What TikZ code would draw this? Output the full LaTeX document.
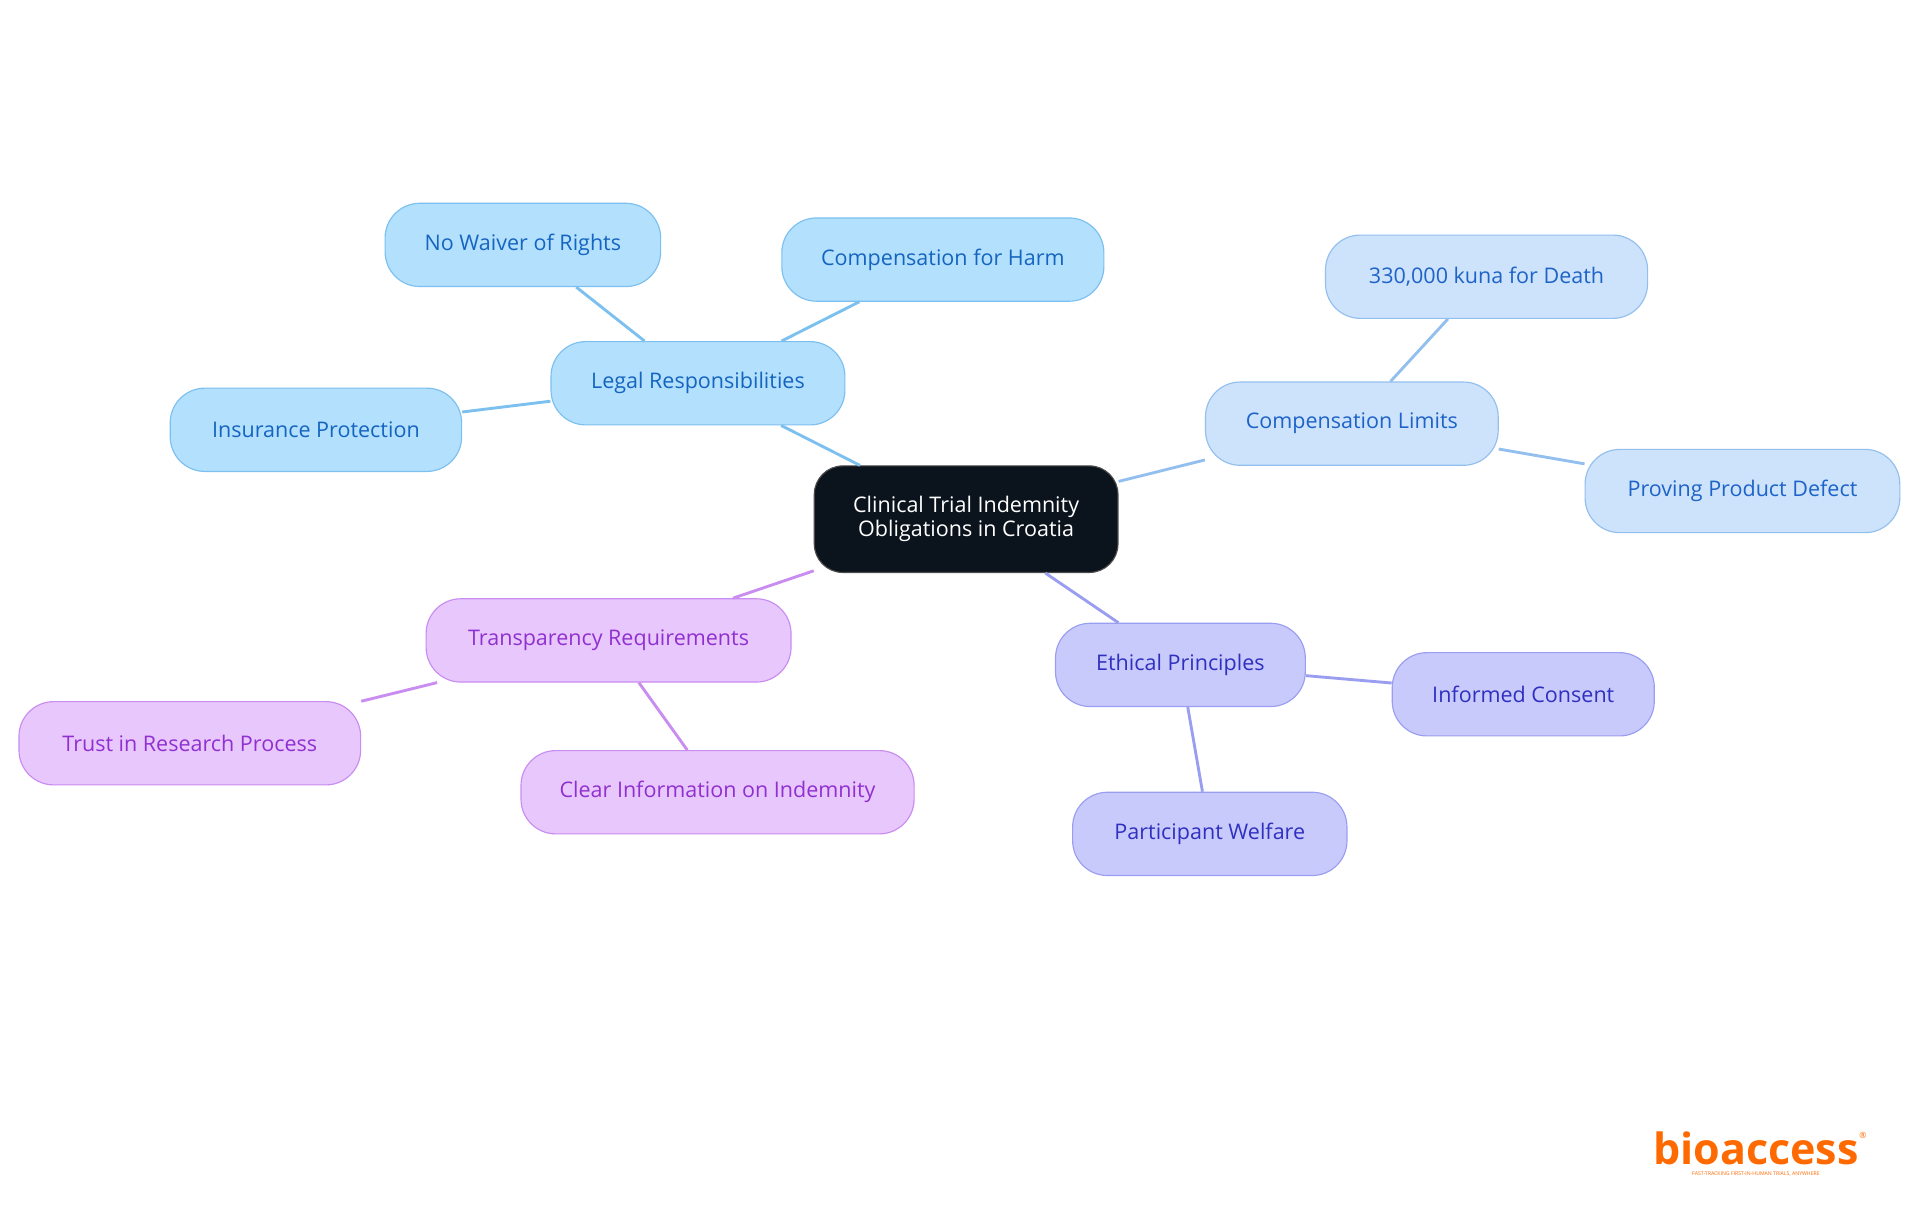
\documentclass[tikz,border=0pt]{standalone}
\usepackage{fontspec}
\setmainfont{Open Sans}
\definecolor{bF}{HTML}{B3E0FD}\definecolor{bD}{HTML}{7CC0EF}\definecolor{bT}{HTML}{1565C0}
\definecolor{cF}{HTML}{CDE3FB}\definecolor{cD}{HTML}{93BFEE}\definecolor{cT}{HTML}{1E63C8}
\definecolor{eF}{HTML}{C8CAFC}\definecolor{eD}{HTML}{9A9EF0}\definecolor{eT}{HTML}{3030C0}
\definecolor{pF}{HTML}{E8C8FC}\definecolor{pD}{HTML}{C98CF0}\definecolor{pT}{HTML}{9030D0}
\definecolor{cen}{HTML}{0B131C}
\definecolor{logo}{HTML}{FF6A00}
\tikzset{
 pill/.style={rounded corners=0.85cm,minimum height=2.04cm,font=\fontsize{15}{17}\selectfont,line width=0.8pt},
 gb/.style={pill,fill=bF,draw=bD,text=bT},
 gc/.style={pill,fill=cF,draw=cD,text=cT},
 ge/.style={pill,fill=eF,draw=eD,text=eT},
 gp/.style={pill,fill=pF,draw=pD,text=pT},
 ln/.style={line width=2pt}
}
\begin{document}
\begin{tikzpicture}[x=0.03cm,y=-0.03cm]
\useasboundingbox[fill=white] (0,0) rectangle (1568,990);
\node[pill,fill=cen,draw=black!70,text=white,minimum width=7.44cm,minimum height=2.61cm,align=center,rounded corners=0.7cm] (c) at (789,424) {Clinical Trial Indemnity\\Obligations in Croatia};
\node[gb,minimum width=7.2cm] (lr) at (570,313) {Legal Responsibilities};
\node[gb,minimum width=6.75cm] (nw) at (427,200) {No Waiver of Rights};
\node[gb,minimum width=7.89cm] (ch) at (770,212) {Compensation for Harm};
\node[gb,minimum width=7.14cm] (ip) at (258,351) {Insurance Protection};
\node[gc,minimum width=7.17cm] (cl) at (1104,346) {Compensation Limits};
\node[gc,minimum width=7.89cm] (kd) at (1214,226) {330,000 kuna for Death};
\node[gc,minimum width=7.71cm] (pd) at (1423,401) {Proving Product Defect};
\node[ge,minimum width=6.12cm] (ep) at (964,543) {Ethical Principles};
\node[ge,minimum width=6.42cm] (ic) at (1244,567) {Informed Consent};
\node[ge,minimum width=6.72cm] (pw) at (988,681) {Participant Welfare};
\node[gp,minimum width=8.94cm] (tr) at (497,523) {Transparency Requirements};
\node[gp,minimum width=8.37cm] (tp) at (155,607) {Trust in Research Process};
\node[gp,minimum width=9.63cm] (ci) at (586,647) {Clear Information on Indemnity};
\draw[ln,bD] (c) -- (lr); \draw[ln,bD] (lr) -- (nw); \draw[ln,bD] (lr) -- (ch); \draw[ln,bD] (lr) -- (ip);
\draw[ln,cD] (c) -- (cl); \draw[ln,cD] (cl) -- (kd); \draw[ln,cD] (cl) -- (pd);
\draw[ln,eD] (c) -- (ep); \draw[ln,eD] (ep) -- (ic); \draw[ln,eD] (ep) -- (pw);
\draw[ln,pD] (c) -- (tr); \draw[ln,pD] (tr) -- (tp); \draw[ln,pD] (tr) -- (ci);
\node[text=logo,font=\bfseries\fontsize{30}{30}\selectfont,inner sep=0] (lg) at (1434,938) {bioaccess};
\node[text=logo,font=\fontsize{6}{6}\selectfont,anchor=north west,inner sep=0] (r) at (lg.north east) {®};
\node[text=logo,font=\fontsize{3.6}{4}\selectfont,inner sep=0,anchor=north] (tg) at ([yshift=-4pt]lg.south) {FAST-TRACKING FIRST-IN-HUMAN TRIALS, ANYWHERE};
\end{tikzpicture}
\end{document}
